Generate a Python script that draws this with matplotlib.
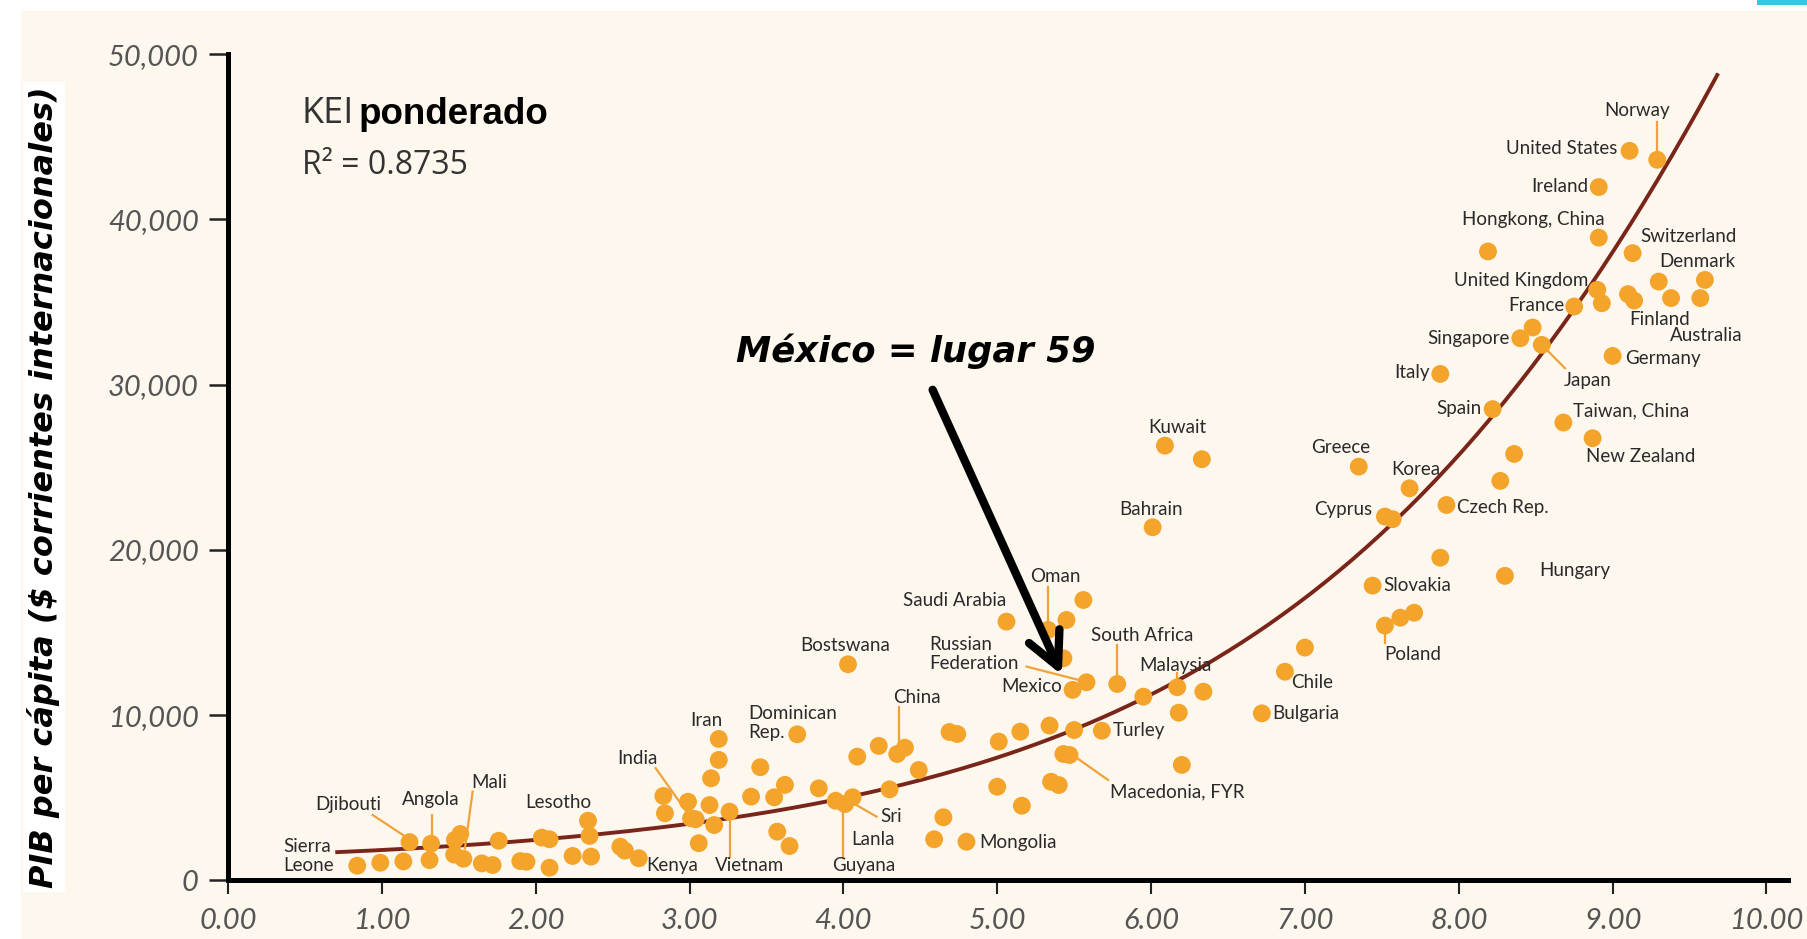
import numpy as np
import matplotlib.pyplot as plt
from matplotlib.patches import Rectangle

# indice KEI ponderado de cada pais
kei = [0.84, 0.99, 1.14, 1.18, 1.32, 1.31, 1.475, 1.51, 1.47, 1.53,
       1.65, 1.72, 1.76, 1.90, 1.94, 2.04, 2.09, 2.09, 2.24, 2.34, 2.35, 2.36,
       2.55, 2.58, 2.67, 2.83, 2.84, 2.99, 3.01, 3.04, 3.06, 3.13, 3.16, 3.14, 3.19, 3.19,
       3.26, 3.40, 3.46, 3.55, 3.62, 3.57, 3.65, 3.70, 3.84, 3.95, 4.01, 4.06, 4.03, 4.09,
       4.23, 4.35, 4.40, 4.30, 4.49, 4.59, 4.65, 4.69, 4.74, 4.80, 5.00, 5.01, 5.16, 5.15,
       5.06, 5.33, 5.45, 5.56, 5.43, 5.49, 5.58, 5.34, 5.50, 5.68, 5.43, 5.47, 5.35, 5.40,
       5.78, 5.95, 6.17, 6.34, 6.18, 6.20, 6.87, 6.72, 7.00, 6.09, 6.33, 6.01,
       7.35, 7.68, 7.52, 7.57, 7.92, 8.36, 8.27, 8.68, 8.87, 8.22, 7.88, 8.30, 7.44,
       7.52, 7.62, 7.71, 9.11, 9.29, 8.91, 8.91, 8.19, 9.13, 9.30, 9.60,
       8.90, 8.93, 9.10, 9.14, 9.38, 9.57, 8.75, 8.48, 8.40, 8.54, 9.00, 7.88]

# PIB per capita ($ corrientes internacionales)
pib = [890, 1070, 1150, 2320, 2220, 1230, 2450, 2810, 1560, 1310,
       1030, 930, 2400, 1170, 1130, 2590, 2490, 770, 1480, 3610, 2690, 1440,
       2040, 1800, 1340, 5110, 4060, 4760, 3760, 3700, 2250, 4560, 3350, 6180, 7290, 8560,
       4160, 5070, 6850, 5030, 5780, 2950, 2080, 8840, 5570, 4820, 4620, 5030, 13080, 7490,
       8140, 7650, 8030, 5510, 6680, 2490, 3820, 8980, 8860, 2340, 5670, 8400, 4520, 9000,
       15660, 15160, 15760, 16970, 13440, 11530, 11990, 9370, 9100, 9060, 7650, 7590, 5970, 5770,
       11890, 11120, 11690, 11420, 10150, 6990, 12630, 10110, 14090, 26310, 25490, 21370,
       25040, 23730, 22020, 21860, 22720, 25810, 24180, 27710, 26760, 28520, 19530, 18430, 17840,
       15420, 15900, 16200, 44150, 43610, 41960, 38900, 38060, 37960, 36240, 36340,
       35740, 34930, 35480, 35090, 35240, 35240, 34730, 33460, 32810, 32410, 31740, 30650]

# puntos leidos sobre la linea de tendencia
tend_x = [0.71, 1.42, 2.29, 2.99, 3.87, 4.45, 5.03, 5.49, 5.95, 6.32,
          6.75, 7.18, 7.57, 7.90, 8.37, 8.92, 9.34, 9.68]
tend_y = [1740, 2040, 2650, 3350, 4760, 6080, 7590, 9000, 11220, 12940,
          15360, 18380, 21620, 24840, 29080, 35940, 43610, 49700]

ticks_x = [0, 1, 2, 3, 4, 5, 6, 7, 8, 9, 10]
ticks_y = [0, 10000, 20000, 30000, 40000, 50000]

# nombres de paises y donde va cada texto
etiquetas = [
    ('Norway', 9.16, 46570, 'center'), ('United States', 9.03, 44270, 'right'),
    ('Ireland', 8.84, 41990, 'right'), ('Hongkong, China', 8.95, 39970, 'right'),
    ('Switzerland', 9.18, 38960, 'left'), ('Denmark', 9.30, 37450, 'left'),
    ('United Kingdom', 8.84, 36280, 'right'), ('France', 8.69, 34770, 'right'),
    ('Finland', 9.11, 33960, 'left'), ('Australia', 9.37, 32950, 'left'),
    ('Singapore', 8.33, 32810, 'right'), ('Germany', 9.08, 31600, 'left'),
    ('Japan', 8.68, 30230, 'left'), ('Italy', 7.81, 30730, 'right'),
    ('Spain', 8.15, 28530, 'right'), ('Taiwan, China', 8.74, 28410, 'left'),
    ('New Zealand', 8.83, 25650, 'left'), ('Greece', 7.23, 26220, 'center'),
    ('Korea', 7.72, 24840, 'center'), ('Kuwait', 6.17, 27430, 'center'),
    ('Bahrain', 6.00, 22420, 'center'), ('Cyprus', 7.44, 22420, 'right'),
    ('Czech Rep.', 7.99, 22580, 'left'), ('Hungary', 8.52, 18750, 'left'),
    ('Slovakia', 7.51, 17820, 'left'), ('Poland', 7.70, 13690, 'center'),
    ('Chile', 6.91, 11970, 'left'), ('Bulgaria', 6.79, 10110, 'left'),
    ('Malaysia', 6.16, 13000, 'center'), ('South Africa', 5.94, 14850, 'center'),
    ('Turley', 5.75, 9100, 'left'), ('Oman', 5.38, 18380, 'center'),
    ('Saudi Arabia', 4.72, 16930, 'center'), ('Bostswana', 4.01, 14210, 'center'),
    ('Russian\nFederation', 4.555, 13700, 'left'), ('Mexico', 5.42, 11720, 'right'),
    ('China', 4.48, 11080, 'center'), ('Iran', 3.11, 9670, 'center'),
    ('Dominican\nRep.', 3.38, 9530, 'left'), ('India', 2.66, 7390, 'center'),
    ('Sri', 4.24, 3860, 'left'), ('Lanla', 4.05, 2490, 'left'),
    ('Guyana', 4.13, 930, 'center'), ('Kenya', 2.89, 930, 'center'),
    ('Vietnam', 3.39, 930, 'center'), ('Mongolia', 4.88, 2280, 'left'),
    ('Macedonia, FYR', 5.73, 5330, 'left'), ('Sierra\nLeone', 0.36, 1480, 'left'),
    ('Djibouti', 0.78, 4620, 'center'), ('Angola', 1.32, 4910, 'center'),
    ('Mali', 1.70, 5910, 'center'), ('Lesotho', 2.15, 4700, 'center'),
]

# lineas guia de etiqueta a punto (x1, y1, x2, y2)
guias = [
    (9.29, 45920, 9.29, 43910), (8.54, 32410, 8.69, 31000), (7.52, 15420, 7.52, 14390),
    (6.17, 12550, 6.17, 12130), (5.78, 14250, 5.78, 12430), (5.33, 17780, 5.33, 15460),
    (5.19, 12940, 5.53, 12130), (4.36, 10510, 4.36, 8090), (2.78, 6790, 2.98, 4160),
    (4.065, 4670, 4.215, 3860), (4.00, 4460, 4.00, 1340), (3.26, 3860, 3.26, 1430),
    (5.49, 7590, 5.72, 6080), (0.94, 3960, 1.16, 2610), (1.325, 3960, 1.325, 2650),
    (1.59, 5370, 1.54, 1940),
]

crema = '#FDF7EE'
naranja = '#F4A42A'

fig = plt.figure(figsize=(18.07, 9.39), dpi=100)
fig.patch.set_facecolor('white')
fig.patches.append(Rectangle((21 / 1807, 0), 1, 1 - 11 / 939, transform=fig.transFigure,
                             facecolor=crema, edgecolor='none', zorder=-10))
fig.patches.append(Rectangle((1757 / 1807, 1 - 5 / 939), 50 / 1807, 5 / 939,
                             transform=fig.transFigure, facecolor='#36C6E2',
                             edgecolor='none', zorder=-9))

ax = fig.add_axes([228 / 1807, 1 - 880.4 / 939, 1560 / 1807, 826.2 / 939])
ax.set_facecolor('none')
ax.set_xlim(0, 10.14)
ax.set_ylim(0, 50000)

for s in ['top', 'right']:
    ax.spines[s].set_visible(False)
for s in ['left', 'bottom']:
    ax.spines[s].set_linewidth(3.6)
    ax.spines[s].set_color('black')

ax.set_xticks(ticks_x)
ax.set_xticklabels([f'{v:.2f}' for v in ticks_x])
ax.set_yticks(ticks_y)
ax.set_yticklabels([f'{v:,}' for v in ticks_y])
ax.tick_params(axis='y', length=14, width=1.8, pad=7, colors='#222', labelcolor='#555')
ax.tick_params(axis='x', length=10, width=1.5, pad=10, colors='#222', labelcolor='#555')
for lab in ax.get_xticklabels() + ax.get_yticklabels():
    lab.set_fontfamily('Lato')
    lab.set_fontstyle('italic')
    lab.set_fontsize(21)

# linea de tendencia
coef = np.polyfit(tend_x, np.log(tend_y), 3)
xx = np.linspace(min(tend_x), max(tend_x), 300)
ax.plot(xx, np.exp(np.polyval(coef, xx)), color='#7A2519', lw=2.8, zorder=2, clip_on=False)

for x1, y1, x2, y2 in guias:
    ax.plot([x1, x2], [y1, y2], color='#F0A23A', lw=1.6, zorder=2.5)

ax.scatter(kei, pib, s=165, color=naranja, edgecolors='none', zorder=3, clip_on=False)

for nombre, x, y, ha in etiquetas:
    ax.text(x, y, nombre, ha=ha, va='center', fontsize=13.5, family='Lato',
            color='#2a2a2a', linespacing=1.15, zorder=4)

# titulo interno
ax.text(0.48, 46380, 'KEI', fontsize=26, family='Open Sans', color='#333',
        ha='left', va='center')
ax.text(0.85, 46380, 'ponderado', fontsize=26.5, family='Liberation Sans',
        fontweight='bold', color='black', ha='left', va='center')
ax.text(0.48, 43290, 'R² = 0.8735', fontsize=23, family='Open Sans', color='#333',
        ha='left', va='center')

ax.text(4.47, 32020, 'México = lugar 59', fontsize=25.5, family='DejaVu Sans',
        fontweight='bold', fontstyle='italic', ha='center', va='center')
ax.annotate('', xy=(5.42, 12430), xytext=(4.58, 29690),
            arrowprops=dict(arrowstyle='->, head_length=2.4, head_width=1.2',
                            lw=6, color='black', shrinkA=0, shrinkB=0,
                            mutation_scale=10), zorder=5)

fig.text(44 / 1807, 1 - 487 / 939, 'PIB per cápita ($ corrientes internacionales)',
         rotation=90, ha='center', va='center', fontsize=23, family='DejaVu Sans',
         fontweight='bold', fontstyle='italic',
         bbox=dict(facecolor='white', edgecolor='none', pad=3))

fig.savefig('out.png', dpi=100, facecolor=fig.get_facecolor())
